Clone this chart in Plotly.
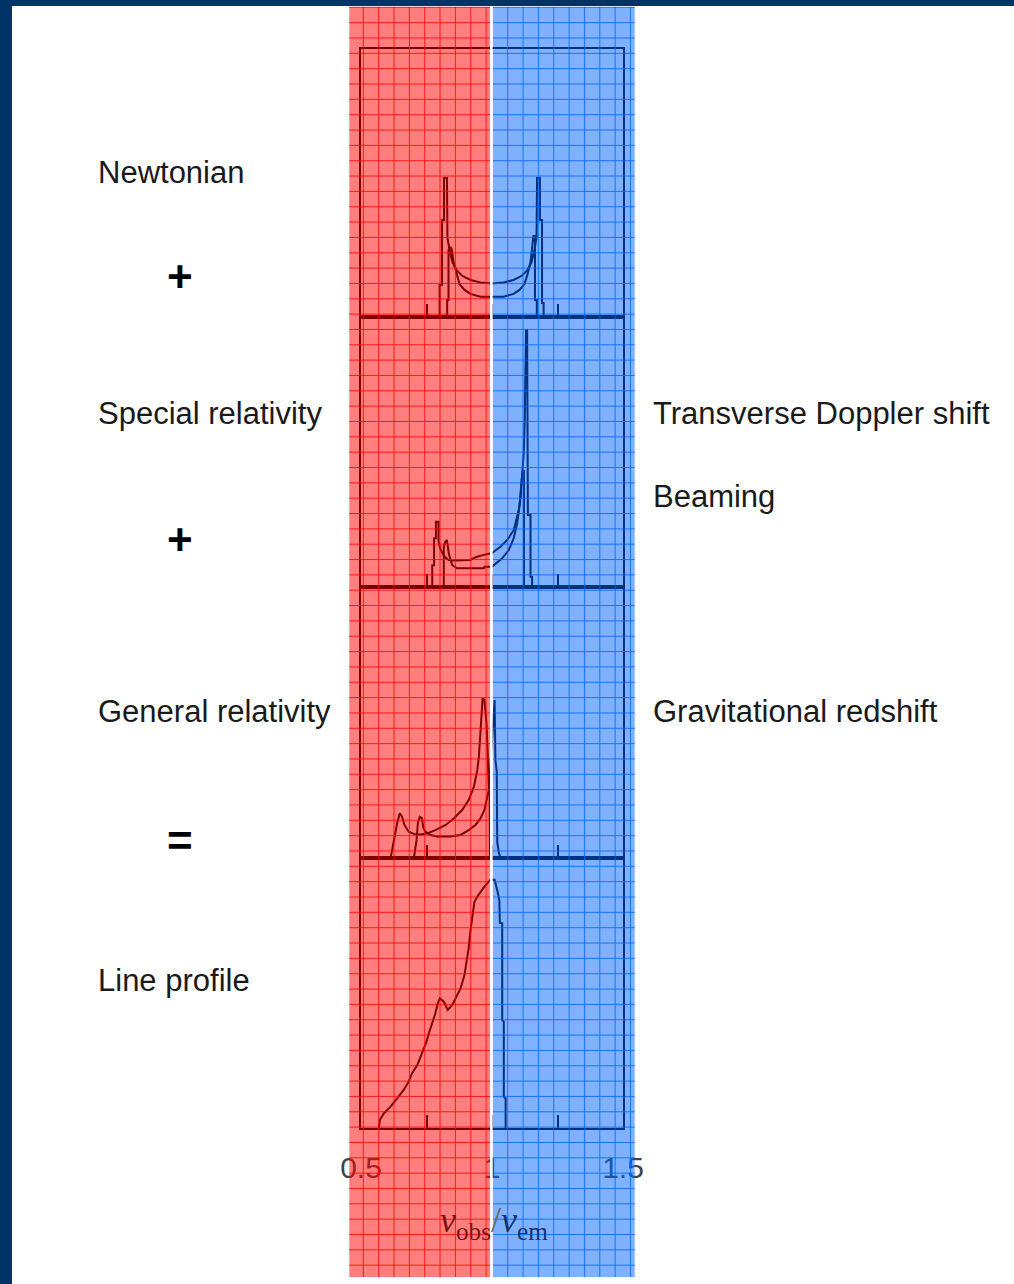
import plotly.graph_objects as go

W, H = 1014, 1284

# ---------------- data (x = nu_obs/nu_em, y = relative flux per panel) ----------------
newt_a_x = [0.800, 0.800, 0.809, 0.809, 0.817, 0.817, 0.828, 0.830, 0.838, 0.849, 0.865, 0.887, 0.918, 0.956,
            1.000, 1.044, 1.082, 1.113, 1.135, 1.151, 1.162, 1.170, 1.172, 1.183, 1.183, 1.191, 1.191, 1.197, 1.197]
newt_a_y = [0, 0.119, 0.119, 0.362, 0.362, 0.519, 0.519, 0.295, 0.250, 0.205, 0.175, 0.153, 0.138, 0.129,
            0.125, 0.129, 0.138, 0.153, 0.175, 0.205, 0.250, 0.295, 0.519, 0.519, 0.362, 0.362, 0.052, 0.052, 0]
newt_b_x = [0.829, 0.829, 0.834, 0.834, 0.842, 0.847, 0.853, 0.865, 0.876, 0.895, 0.918, 0.956, 1.000,
            1.044, 1.082, 1.105, 1.124, 1.135, 1.147, 1.153, 1.158, 1.164, 1.164, 1.171, 1.171]
newt_b_y = [0, 0.063, 0.063, 0.250, 0.261, 0.250, 0.205, 0.157, 0.123, 0.101, 0.086, 0.076, 0.075,
            0.076, 0.086, 0.101, 0.123, 0.157, 0.205, 0.250, 0.302, 0.302, 0.063, 0.063, 0]

sr_a_x = [0.772, 0.772, 0.779, 0.779, 0.786, 0.786, 0.796, 0.796, 0.803, 0.819, 0.835, 0.854, 0.918, 0.937,
          0.969, 1.000, 1.032, 1.058, 1.083, 1.102, 1.109, 1.115, 1.121, 1.125, 1.128, 1.130, 1.134, 1.137,
          1.147, 1.147, 1.153, 1.153]
sr_a_y = [0, 0.081, 0.081, 0.181, 0.181, 0.242, 0.242, 0.170, 0.140, 0.112, 0.100, 0.098, 0.100, 0.110,
          0.119, 0.126, 0.149, 0.174, 0.211, 0.285, 0.334, 0.409, 0.495, 0.619, 0.841, 0.952, 0.952, 0.267,
          0.267, 0.038, 0.038, 0]
sr_b_x = [0.816, 0.816, 0.821, 0.828, 0.835, 0.848, 0.867, 0.969, 0.971, 1.000, 1.007, 1.039, 1.064, 1.083,
          1.096, 1.105, 1.111, 1.116, 1.120, 1.122, 1.122]
sr_b_y = [0, 0.149, 0.167, 0.174, 0.124, 0.081, 0.069, 0.069, 0.075, 0.075, 0.081, 0.106, 0.137, 0.181,
          0.236, 0.298, 0.372, 0.422, 0.430, 0.430, 0]

gr_a_x = [0.613, 0.625, 0.638, 0.648, 0.657, 0.666, 0.682, 0.702, 0.727, 0.753, 0.784, 0.823, 0.854, 0.886,
          0.911, 0.931, 0.944, 0.950, 0.956, 0.960, 0.964, 0.971, 0.979, 0.984, 0.988, 0.991, 0.992]
gr_a_y = [0, 0.066, 0.128, 0.165, 0.152, 0.122, 0.097, 0.089, 0.087, 0.091, 0.103, 0.122, 0.146, 0.177,
          0.214, 0.263, 0.325, 0.374, 0.472, 0.546, 0.589, 0.583, 0.497, 0.374, 0.251, 0.251, 0]
gr_b_x = [0.702, 0.712, 0.717, 0.724, 0.733, 0.737, 0.746, 0.765, 0.791, 0.842, 0.880, 0.911, 0.937, 0.956,
          0.971, 0.982, 0.988, 1.010, 1.013, 1.018, 1.020, 1.026, 1.032]
gr_b_y = [0, 0.066, 0.128, 0.152, 0.146, 0.115, 0.097, 0.085, 0.079, 0.079, 0.085, 0.103, 0.122, 0.146,
          0.177, 0.226, 0.251, 0.583, 0.360, 0.320, 0.060, 0.020, 0]

lp_x = [0.568, 0.572, 0.587, 0.613, 0.638, 0.663, 0.682, 0.695, 0.715, 0.734, 0.750, 0.759, 0.772, 0.784,
        0.793, 0.801, 0.816, 0.831, 0.848, 0.861, 0.880, 0.895, 0.903, 0.911, 0.918, 0.927, 0.933, 0.944,
        0.956, 0.971, 0.994, 1.010, 1.020, 1.028, 1.030, 1.039, 1.039, 1.045, 1.045, 1.052, 1.052]
lp_y = [0, 0.030, 0.054, 0.079, 0.110, 0.141, 0.172, 0.203, 0.233, 0.277, 0.320, 0.351, 0.388, 0.425,
        0.462, 0.480, 0.468, 0.437, 0.456, 0.480, 0.517, 0.567, 0.610, 0.666, 0.733, 0.795, 0.838, 0.857,
        0.875, 0.894, 0.919, 0.919, 0.881, 0.844, 0.760, 0.758, 0.400, 0.394, 0.116, 0.110, 0]

tick_vals = [0.5, 1.0, 1.5]
tick_text = ["0.5", "1", "1.5"]
minor_tick_vals = [0.75, 1.25]

left_labels = ["Newtonian", "Special relativity", "General relativity", "Line profile"]
left_label_py = [172, 413, 711, 981]
operators = ["+", "+", "="]
operator_py = [276, 540, 840]
right_labels = ["Transverse Doppler shift", "Beaming", "Gravitational redshift"]
right_label_py = [413, 496, 711]

panels = [
    [(newt_a_x, newt_a_y), (newt_b_x, newt_b_y)],
    [(sr_a_x, sr_a_y), (sr_b_x, sr_b_y)],
    [(gr_a_x, gr_a_y), (gr_b_x, gr_b_y)],
    [(lp_x, lp_y)],
]

# ---------------- layout helpers ----------------
def px(x):
    return x / W

def py(y):
    return 1 - y / H

panel_edges = [49, 317, 587, 858, 1128]
X0, X1 = 361, 623

fig = go.Figure()
for i, curves in enumerate(panels):
    n = "" if i == 0 else str(i + 1)
    for cx, cy in curves:
        fig.add_trace(go.Scatter(x=cx, y=cy, mode="lines", xaxis="x" + n, yaxis="y" + n,
                                 line=dict(color="black", width=2), hoverinfo="skip", showlegend=False))

TXT = "Liberation Sans, Arial, Helvetica, sans-serif"
layout = dict(width=W, height=H, margin=dict(l=0, r=0, t=0, b=0, pad=0, autoexpand=False),
              autosize=False, paper_bgcolor="white", plot_bgcolor="rgba(0,0,0,0)", showlegend=False)
for i in range(4):
    n = "" if i == 0 else str(i + 1)
    last = i == 3
    layout["xaxis" + n] = dict(domain=[px(X0), px(X1)], range=[0.5, 1.5], anchor="y" + n,
                               showgrid=False, zeroline=False, showline=True, mirror=True,
                               linecolor="black", linewidth=2,
                               tickmode="array", tickvals=tick_vals, ticktext=tick_text,
                               ticks="inside", ticklen=13, tickwidth=2, tickcolor="black",
                               minor=dict(tickvals=minor_tick_vals, ticks="inside", ticklen=13,
                                          tickwidth=2, tickcolor="black", showgrid=False),
                               showticklabels=last,
                               tickfont=dict(family=TXT, size=30, color="#444"),
                               ticklabelstandoff=12)
    layout["yaxis" + n] = dict(domain=[py(panel_edges[i + 1]), py(panel_edges[i])], range=[0, 1],
                               anchor="x" + n, showgrid=False, zeroline=False, showline=True,
                               mirror=True, linecolor="black", linewidth=2, showticklabels=False,
                               ticks="")
fig.update_layout(**layout)

shapes = []
# navy frame of the slide
shapes.append(dict(type="rect", xref="paper", yref="paper", x0=0, x1=px(12), y0=0, y1=1,
                   fillcolor="#003466", line=dict(width=0), layer="below"))
shapes.append(dict(type="rect", xref="paper", yref="paper", x0=0, x1=1, y0=py(6), y1=1,
                   fillcolor="#003466", line=dict(width=0), layer="below"))

BT, BB = 7, 1277
bands = [(349.3, 490.0, "rgba(255,0,0,0.5)", "rgba(255,0,0,0.8)", 363.3),
         (492.7, 634.7, "rgba(0,100,255,0.5)", "rgba(0,100,255,0.8)", 507.7)]
for bx0, bx1, fill, gcol, gx0 in bands:
    shapes.append(dict(type="rect", xref="paper", yref="paper", x0=px(bx0), x1=px(bx1),
                       y0=py(BB), y1=py(BT), fillcolor=fill, line=dict(width=0), layer="above"))
    path = []
    gx = gx0
    while gx < bx1 - 2:
        path.append(f"M{px(gx):.5f},{py(BT):.5f}V{py(BB):.5f}")
        gx += 15.35
    gy = 7.3
    while gy < BB - 5:
        path.append(f"M{px(bx0):.5f},{py(gy):.5f}H{px(bx1):.5f}")
        gy += 15.34
    shapes.append(dict(type="path", xref="paper", yref="paper", path="".join(path),
                       line=dict(color=gcol, width=1), layer="above"))
# white separator at nu = 1
shapes.append(dict(type="rect", xref="paper", yref="paper", x0=px(490.0), x1=px(492.7),
                   y0=py(BB), y1=py(BT), fillcolor="white", line=dict(width=0), layer="above"))

annotations = []
for t, y in zip(left_labels, left_label_py):
    annotations.append(dict(text=t, x=px(96), y=py(y), xref="paper", yref="paper",
                            xanchor="left", yanchor="middle", showarrow=False,
                            font=dict(family=TXT, size=31, color="#1a1a1a")))
for t, y in zip(operators, operator_py):
    annotations.append(dict(text="<b>" + t + "</b>", x=px(180), y=py(y), xref="paper", yref="paper",
                            xanchor="center", yanchor="middle", showarrow=False,
                            font=dict(family=TXT, size=44, color="black")))
for t, y in zip(right_labels, right_label_py):
    annotations.append(dict(text=t, x=px(651), y=py(y), xref="paper", yref="paper",
                            xanchor="left", yanchor="middle", showarrow=False,
                            font=dict(family=TXT, size=31, color="#1a1a1a")))
annotations.append(dict(
    text='<span style="color:#7a1414"><i>ν</i><sub>obs</sub></span>'
         '<span style="color:#666">/</span>'
         '<span style="color:#14306e"><i>ν</i><sub>em</sub></span>',
    x=px(494), y=py(1222), xref="paper", yref="paper", xanchor="center", yanchor="middle",
    showarrow=False, font=dict(family="Liberation Serif, Times New Roman, serif", size=36)))

fig.update_layout(shapes=shapes, annotations=annotations)
fig.write_html("out.html", config={"displayModeBar": False})
